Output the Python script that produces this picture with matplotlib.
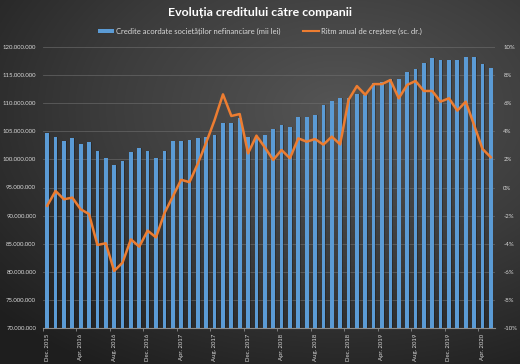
import numpy as np
import matplotlib.pyplot as plt
from matplotlib.colors import LinearSegmentedColormap
from matplotlib.lines import Line2D
from matplotlib.patches import Patch
from matplotlib.ticker import FuncFormatter

plt.rcParams['font.family'] = ['Lato', 'DejaVu Sans']

# luni dec. 2015 - mai 2020
LUNI = ['Ian.', 'Feb.', 'Mar.', 'Apr.', 'Mai', 'Iun.',
        'Iul.', 'Aug.', 'Sep.', 'Oct.', 'Nov.', 'Dec.']
perioade = ['Dec. 2015'] + [f'{l} {an}' for an in range(2016, 2021) for l in LUNI][:53]

# credite acordate societatilor nefinanciare (milioane de mii lei)
credite_mil = [
    104.75, 103.93, 103.33, 103.75, 102.68, 103.10, 101.55, 100.30, 99.00, 99.71,
    101.32, 102.08, 101.55, 100.30, 101.55, 103.27, 103.27, 103.45, 103.86, 104.00,
    104.30, 106.40, 106.50, 107.40, 104.00, 104.10, 104.30, 105.36, 106.07, 105.71,
    107.49, 107.60, 107.90, 109.68, 110.39, 110.87, 111.00, 111.58, 111.46, 113.54,
    113.83, 114.25, 114.31, 115.50, 116.09, 117.21, 118.10, 117.69, 117.69, 117.69,
    118.17, 118.17, 116.98, 116.21,
]
credite = np.array(credite_mil) * 1e6

# ritm anual de crestere (%)
ritm = [
    -1.30, -0.25, -0.84, -0.72, -1.55, -1.89, -4.09, -3.97, -5.94, -5.35,
    -3.69, -4.21, -3.07, -3.55, -1.84, -0.65, 0.55, 0.38, 1.70, 3.20,
    4.80, 6.63, 5.09, 5.23, 2.43, 3.69, 2.86, 1.96, 2.67, 2.08,
    3.50, 3.26, 3.45, 3.05, 3.62, 3.07, 6.23, 7.22, 6.60, 7.36,
    7.36, 7.65, 6.35, 7.30, 7.58, 6.87, 6.87, 6.11, 6.35, 5.47,
    6.11, 4.45, 2.75, 2.15,
]

ALBASTRU = '#5b9bd5'
PORTOCALIU = '#ed7d31'
TEXT = '#d9d9d9'

fig = plt.figure(figsize=(5.2, 3.64), dpi=100)

# fundal cu gradient radial
bg = fig.add_axes([0, 0, 1, 1], zorder=-10)
yy, xx = np.mgrid[0:1:364j, 0:1:520j]
dist = np.sqrt(((xx - 0.65) / 0.85) ** 2 + ((yy - 0.3) / 0.8) ** 2)
cmap_bg = LinearSegmentedColormap.from_list('bg', ['#555555', '#3c3c3c', '#1e1e1e'])
bg.imshow(dist, cmap=cmap_bg, vmin=0, vmax=1.05, aspect='auto',
          extent=[0, 1, 0, 1], origin='upper')
bg.axis('off')

ax = fig.add_axes([43 / 520, 1 - 328 / 364, 452 / 520, 281 / 364])
ax.patch.set_alpha(0)
x = np.arange(len(credite))

# umbra + bare
ax.bar(x + 0.1, credite, width=0.44, color='#111111', alpha=0.35, zorder=2)
ax.bar(x, credite, width=0.44, color=ALBASTRU, zorder=3)

ax.set_xlim(-0.5, len(x) - 0.5)
ax.set_ylim(70e6, 120e6)
ax.set_yticks(np.arange(70e6, 120e6 + 1, 5e6))
ax.yaxis.set_major_formatter(FuncFormatter(lambda v, p: f'{v:,.0f}'.replace(',', '.')))
ax.tick_params(axis='y', length=0, pad=5, labelsize=4.3, labelcolor=TEXT)
ax.grid(axis='y', color='#6e6e6e', linewidth=0.6, alpha=0.7)
ax.set_axisbelow(True)

ax.set_xticks(np.arange(-0.5, len(x) - 1, 4))
ax.set_xticklabels([])
ax.tick_params(axis='x', which='major', length=2.5, width=0.6, color='#8c8c8c')
ax.set_xticks(x[::4], minor=True)
ax.set_xticklabels(perioade[::4], minor=True, rotation=90, fontsize=4.3, color=TEXT, va='top')
ax.tick_params(axis='x', which='minor', length=0, pad=4)

for s in ['top', 'left', 'right']:
    ax.spines[s].set_visible(False)
ax.spines['bottom'].set_color('#8c8c8c')
ax.spines['bottom'].set_linewidth(0.8)

ax2 = ax.twinx()
ax2.patch.set_alpha(0)
ax2.plot(x, ritm, color=PORTOCALIU, linewidth=1.8, solid_joinstyle='round', zorder=5)
ax2.set_ylim(-10, 10)
ax2.set_yticks(np.arange(-10, 11, 2))
ax2.yaxis.set_major_formatter(FuncFormatter(lambda v, p: f'{v:.0f}%'))
ax2.tick_params(axis='y', length=0, pad=6, labelsize=4.3, labelcolor=TEXT)
for s in ax2.spines.values():
    s.set_visible(False)

fig.text(0.5, 1 - 12 / 364, 'Evoluția creditului către companii', ha='center', va='center',
         fontsize=8.9, fontweight='bold', color='white')

handles = [Patch(facecolor=ALBASTRU, edgecolor='none'),
           Line2D([0], [0], color=PORTOCALIU, linewidth=1.5)]
labels = ['Credite acordate societăților nefinanciare (mii lei)',
          'Ritm anual de creștere (sc. dr.)']
leg = fig.legend(handles, labels, loc='center', bbox_to_anchor=(0.5, 1 - 31 / 364), ncol=2,
                 frameon=False, fontsize=5.5, handlelength=2.0, handleheight=0.5,
                 handletextpad=0.3, columnspacing=3.0)
for t in leg.get_texts():
    t.set_color(TEXT)

fig.savefig('out.png', dpi=100)
